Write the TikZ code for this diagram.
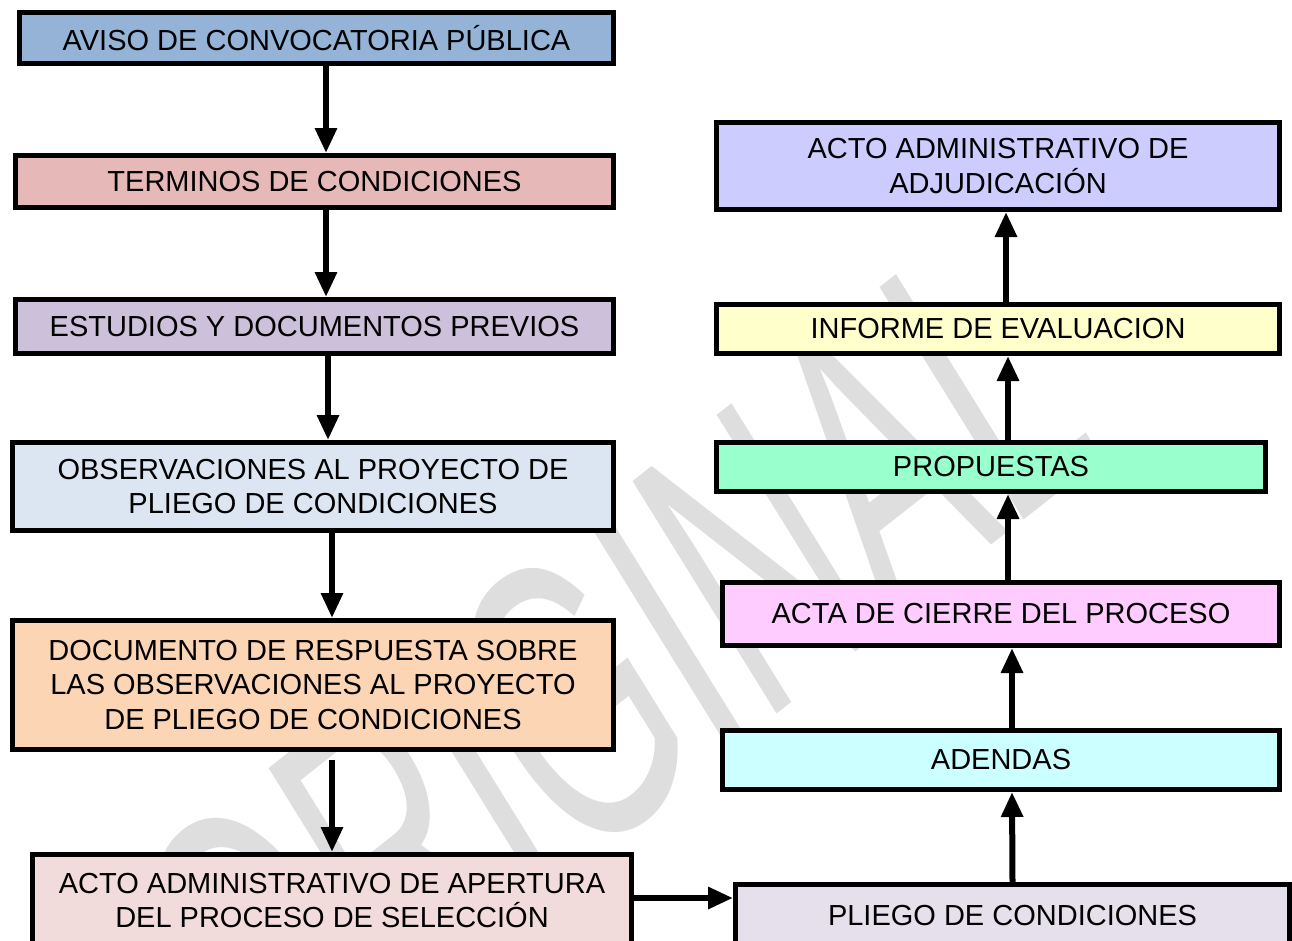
\documentclass[tikz,border=0pt]{standalone}
\usepackage{fontspec}
\setmainfont{Liberation Sans}
\usetikzlibrary{arrows.meta}
\definecolor{cAviso}{HTML}{95B3D7}
\definecolor{cTerm}{HTML}{E6B9B8}
\definecolor{cEst}{HTML}{CCC0DA}
\definecolor{cObs}{HTML}{DCE6F2}
\definecolor{cDoc}{HTML}{FCD5B5}
\definecolor{cApert}{HTML}{F2DCDB}
\definecolor{cAdj}{HTML}{CCCCFF}
\definecolor{cInf}{HTML}{FFFFCC}
\definecolor{cProp}{HTML}{99FFCC}
\definecolor{cActa}{HTML}{FFCCFF}
\definecolor{cAden}{HTML}{CCFFFF}
\definecolor{cPliego}{HTML}{E6E0EC}
\definecolor{cWm}{HTML}{DEDEDE}
\tikzset{
  box/.style={draw=black, line width=5pt, rectangle, inner sep=0pt, align=center,
    font=\fontsize{29}{34.5}\selectfont},
  arr/.style={line width=6pt, -{Triangle[width=21pt,length=25pt]}},
  wmark/.style={transform shape, anchor=base west, text=cWm, inner sep=0pt,
    font=\fontsize{100}{110}\selectfont}
}
\begin{document}
\begin{tikzpicture}[x=1pt,y=-1pt]
\useasboundingbox (0,0) rectangle (1292,940);
% watermark
\begin{scope}[shift={(260,1120.8)}, cm={1.773,1.395,-2.095,3.38,(0,0)}]
\node[wmark] (wm) at (0,0) {ORIGINAL};
\end{scope}
% left column
\node[box, fill=cAviso, minimum width=594pt, minimum height=51pt] (aviso) at (316.5,38) {AVISO DE CONVOCATORIA PÚBLICA};
\node[box, fill=cTerm, minimum width=598pt, minimum height=52pt] (term) at (314.5,181.5) {TERMINOS DE CONDICIONES};
\node[box, fill=cEst, minimum width=598pt, minimum height=54pt] (est) at (314.5,326.5) {ESTUDIOS Y DOCUMENTOS PREVIOS};
\node[box, fill=cObs, minimum width=601pt, minimum height=88pt] (obs) at (313,486.5) {OBSERVACIONES AL PROYECTO DE\\PLIEGO DE CONDICIONES};
\node[box, fill=cDoc, minimum width=601pt, minimum height=129pt] (doc) at (313,685) {DOCUMENTO DE RESPUESTA SOBRE\\LAS OBSERVACIONES AL PROYECTO\\DE PLIEGO DE CONDICIONES};
\node[box, fill=cApert, minimum width=599pt, minimum height=92pt] (apert) at (332,900.5) {ACTO ADMINISTRATIVO DE APERTURA\\DEL PROCESO DE SELECCIÓN};
% right column
\node[box, fill=cAdj, minimum width=563pt, minimum height=87pt] (adj) at (998,166) {ACTO ADMINISTRATIVO DE\\ADJUDICACIÓN};
\node[box, fill=cInf, minimum width=563pt, minimum height=49pt] (inf) at (998,329) {INFORME DE EVALUACION};
\node[box, fill=cProp, minimum width=549pt, minimum height=49pt] (prop) at (991,467) {PROPUESTAS};
\node[box, fill=cActa, minimum width=557pt, minimum height=63pt] (acta) at (1001,614) {ACTA DE CIERRE DEL PROCESO};
\node[box, fill=cAden, minimum width=557pt, minimum height=59pt] (aden) at (1001,760) {ADENDAS};
\node[box, fill=cPliego, minimum width=554pt, minimum height=62pt] (pliego) at (1012.5,915.5) {PLIEGO DE CONDICIONES};
% connectors
\draw[arr] ([xshift=9.5pt]aviso.south) -- ([xshift=11.5pt]term.north);
\draw[arr] ([xshift=11.5pt]term.south) -- ([xshift=11.5pt]est.north);
\draw[arr] ([xshift=13.5pt]est.south) -- ([xshift=15pt]obs.north);
\draw[arr] ([xshift=19pt]obs.south) -- ([xshift=19pt]doc.north);
\draw[arr] ([xshift=19pt,yshift=-8pt]doc.south) -- ([xshift=0pt]apert.north);
\draw[arr] ([yshift=2.5pt]apert.east) -- ([yshift=2.5pt]apert.east -| pliego.west);
\draw[arr] ([xshift=0pt]pliego.north) -- ([xshift=11pt]aden.south);
\draw[arr] ([xshift=11pt]aden.north) -- ([xshift=11pt]acta.south);
\draw[arr] ([xshift=7pt]acta.north) -- ([xshift=17pt]prop.south);
\draw[arr] ([xshift=17pt]prop.north) -- ([xshift=10pt]inf.south);
\draw[arr] ([xshift=8pt]inf.north) -- ([xshift=8pt]adj.south);
\end{tikzpicture}
\end{document}
